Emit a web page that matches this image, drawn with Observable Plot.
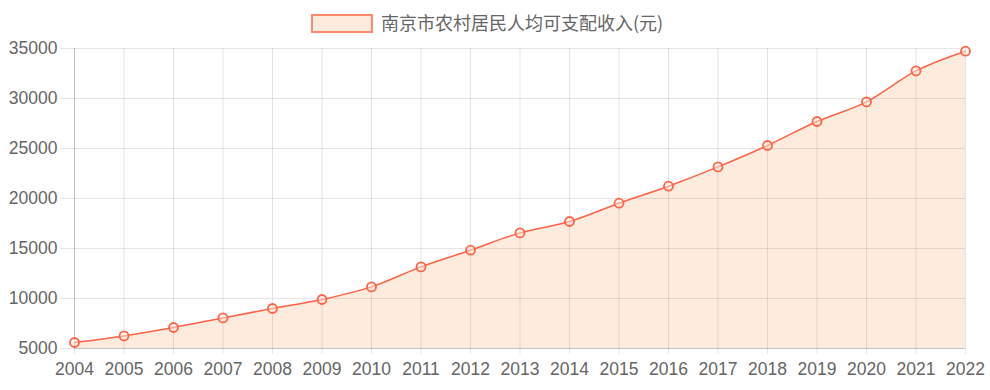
<!DOCTYPE html>
<html>
<head>
<meta charset="utf-8">
<script src="https://cdn.jsdelivr.net/npm/d3@7"></script>
<script src="https://cdn.jsdelivr.net/npm/@observablehq/plot@0.6"></script>
<style>
  html, body { margin: 0; padding: 0; background: #fff; }
  #legend { height: 30px; position: relative; }
  #legend .box { position: absolute; left: 311px; top: 14px; width: 58px; height: 15px; border: 2px solid #ff8a6e; background: #fdebde; }
  #legend .label { position: absolute; left: 381px; top: 11px; font-size: 18px; line-height: 22px; color: #666; font-family: "Noto Sans CJK SC", sans-serif; white-space: nowrap; }
</style>
</head>
<body>
<div id="legend"><div class="box"></div><div class="label" id="legendLabel"></div></div>
<div id="chart"></div>
<script>
const seriesName = "南京市农村居民人均可支配收入(元)";
const years = [2004, 2005, 2006, 2007, 2008, 2009, 2010, 2011, 2012, 2013, 2014, 2015, 2016, 2017, 2018, 2019, 2020, 2021, 2022];
const income = [5600, 6260, 7100, 8060, 9000, 9900, 11160, 13160, 14830, 16560, 17700, 19530, 21230, 23160, 25300, 27700, 29660, 32760, 34730];
const yTicks = [5000, 10000, 15000, 20000, 25000, 30000, 35000];

document.getElementById("legendLabel").textContent = seriesName;

const data = years.map((year, i) => ({year, value: income[i]}));
const yMin = yTicks[0], yMax = yTicks[yTicks.length - 1];
const lineColor = "#ff6347";
const fillColor = "#fdebde";

const chart = Plot.plot({
  width: 990,
  height: 360,
  marginTop: 18,
  marginBottom: 42,
  marginLeft: 74,
  marginRight: 25,
  style: {fontFamily: "'Liberation Sans', Arial, sans-serif", fontSize: "17.5px", color: "#666", background: "#fff", overflow: "visible"},
  x: {type: "linear", domain: [years[0], years[years.length - 1]]},
  y: {domain: [yMin, yMax]},
  marks: [
    Plot.areaY(data, {x: "year", y1: () => yMin, y2: "value", fill: fillColor, curve: "monotone-x"}),
    Plot.gridY(yTicks, {stroke: "#000", strokeOpacity: 0.1}),
    Plot.gridX(years, {stroke: "#000", strokeOpacity: 0.1}),
    Plot.axisY(yTicks, {tickSize: 14, tickPadding: 3, stroke: "#000", strokeOpacity: 0.1, fill: "#666", fillOpacity: 1, label: null, tickFormat: d => String(d)}),
    Plot.axisX(years, {tickSize: 6, tickPadding: 8, stroke: "#000", strokeOpacity: 0.1, fill: "#666", fillOpacity: 1, label: null, tickFormat: d => String(d)}),
    Plot.ruleX([years[0]], {stroke: "#000", strokeOpacity: 0.15}),
    Plot.ruleY([yMin], {stroke: "#000", strokeOpacity: 0.15}),
    Plot.line(data, {x: "year", y: "value", stroke: lineColor, strokeWidth: 1.5, curve: "monotone-x"}),
    Plot.dot(data, {x: "year", y: "value", r: 4.5, stroke: lineColor, strokeWidth: 1.8, fill: fillColor, fillOpacity: 0.5})
  ]
});
document.getElementById("chart").appendChild(chart);
</script>
</body>
</html>
